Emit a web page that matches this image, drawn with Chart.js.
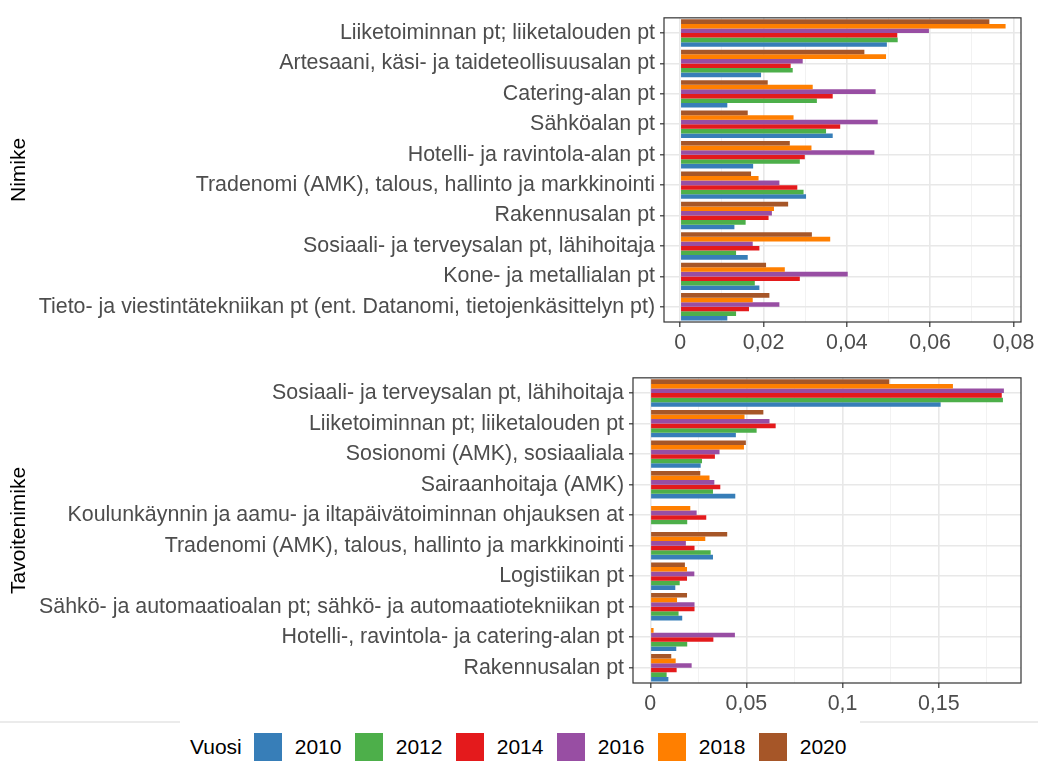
<!DOCTYPE html>
<html>
<head>
<meta charset="utf-8">
<script src="https://cdn.jsdelivr.net/npm/chart.js@4.4.1/dist/chart.umd.min.js"></script>
<style>
  body { margin: 0; background: #fff; width: 1038px; height: 762px; position: relative; overflow: hidden; font-family: "Liberation Sans", Arial, sans-serif; }
  canvas { position: absolute; left: 0; }
  #topChart { top: 0; }
  #bottomChart { top: 360px; }
  #rule { position: absolute; left: 0; top: 721px; width: 1038px; height: 2px; background: #ebebeb; }
  #legendBox { position: absolute; left: 180px; top: 719px; width: 680px; height: 43px; background: #fff; }
  #legend { position: absolute; left: 190px; top: 733px; height: 28px; display: flex; align-items: center; font-size: 21px; color: #000; }
  #legend .ttl { margin-right: 12px; }
  #legend .box { width: 28px; height: 28px; margin-right: 13px; }
  #legend .lbl { width: 47px; margin-right: 13px; }
</style>
</head>
<body>
<canvas id="topChart" width="1038" height="360"></canvas>
<canvas id="bottomChart" width="1038" height="361"></canvas>
<div id="rule"></div>
<div id="legendBox"></div>
<div id="legend"></div>

<script>
// vuodet ja värit (Set1)
const years = ['2010', '2012', '2014', '2016', '2018', '2020'];
const yearColors = ['#377EB8', '#4DAF4A', '#E41A1C', '#984EA3', '#FF7F00', '#A65628'];

// ylempi paneeli: Nimike
const nimikeLabels = [
  'Liiketoiminnan pt; liiketalouden pt',
  'Artesaani, käsi- ja taideteollisuusalan pt',
  'Catering-alan pt',
  'Sähköalan pt',
  'Hotelli- ja ravintola-alan pt',
  'Tradenomi (AMK), talous, hallinto ja markkinointi',
  'Rakennusalan pt',
  'Sosiaali- ja terveysalan pt, lähihoitaja',
  'Kone- ja metallialan pt',
  'Tieto- ja viestintätekniikan pt (ent. Datanomi, tietojenkäsittelyn pt)'
];
const nimike2010 = [0.0496, 0.0194, 0.0113, 0.0366, 0.0175, 0.0302, 0.0130, 0.0162, 0.0190, 0.0113];
const nimike2012 = [0.0522, 0.0270, 0.0328, 0.0350, 0.0287, 0.0296, 0.0157, 0.0134, 0.0179, 0.0134];
const nimike2014 = [0.0521, 0.0265, 0.0366, 0.0384, 0.0299, 0.0281, 0.0212, 0.0190, 0.0287, 0.0165];
const nimike2016 = [0.0597, 0.0294, 0.0469, 0.0474, 0.0466, 0.0238, 0.0220, 0.0174, 0.0402, 0.0238];
const nimike2018 = [0.0781, 0.0494, 0.0318, 0.0272, 0.0315, 0.0188, 0.0225, 0.0360, 0.0251, 0.0174];
const nimike2020 = [0.0742, 0.0442, 0.0210, 0.0162, 0.0263, 0.0170, 0.0259, 0.0316, 0.0206, 0.0214];

// alempi paneeli: Tavoitenimike
const tavoiteLabels = [
  'Sosiaali- ja terveysalan pt, lähihoitaja',
  'Liiketoiminnan pt; liiketalouden pt',
  'Sosionomi (AMK), sosiaaliala',
  'Sairaanhoitaja (AMK)',
  'Koulunkäynnin ja aamu- ja iltapäivätoiminnan ohjauksen at',
  'Tradenomi (AMK), talous, hallinto ja markkinointi',
  'Logistiikan pt',
  'Sähkö- ja automaatioalan pt; sähkö- ja automaatiotekniikan pt',
  'Hotelli-, ravintola- ja catering-alan pt',
  'Rakennusalan pt'
];
const tavoite2010 = [0.1510, 0.0445, 0.0262, 0.0442, null, 0.0326, 0.0130, 0.0166, 0.0135, 0.0094];
const tavoite2012 = [0.1834, 0.0553, 0.0269, 0.0326, 0.0192, 0.0314, 0.0153, 0.0147, 0.0192, 0.0085];
const tavoite2014 = [0.1828, 0.0652, 0.0336, 0.0364, 0.0291, 0.0230, 0.0191, 0.0230, 0.0328, 0.0137];
const tavoite2016 = [0.1839, 0.0620, 0.0360, 0.0333, 0.0241, 0.0185, 0.0229, 0.0230, 0.0440, 0.0215];
const tavoite2018 = [0.1574, 0.0490, 0.0487, 0.0308, 0.0208, 0.0286, 0.0191, 0.0139, 0.0017, 0.0132];
const tavoite2020 = [0.1243, 0.0588, 0.0497, 0.0260, null, 0.0400, 0.0180, 0.0191, null, 0.0109];

Chart.defaults.font.family = '"Liberation Sans", Arial, sans-serif';

// paneelin reunaviiva
const panelBorder = {
  id: 'panelBorder',
  afterDatasetsDraw(chart) {
    const a = chart.chartArea;
    const ctx = chart.ctx;
    ctx.save();
    ctx.strokeStyle = '#333333';
    ctx.lineWidth = 1.2;
    ctx.strokeRect(a.left, a.top, a.right - a.left, a.bottom - a.top);
    ctx.restore();
  }
};

function fmt(v) {
  return String(Math.round(v * 1000) / 1000).replace('.', ',');
}

function drawPanel(canvasId, labels, series, title, xMin, xMax, step, axisWidth) {
  // 2020 ylimmäksi -> käänteinen järjestys
  const datasets = [];
  for (let i = series.length - 1; i >= 0; i--) {
    datasets.push({
      label: years[i],
      data: series[i],
      backgroundColor: yearColors[i],
      categoryPercentage: 0.9,
      barPercentage: 1
    });
  }

  const isMajor = (v) => Math.abs(Math.round(v / step) % 2) === 0;

  let ctx = document.getElementById(canvasId).getContext('2d');
  return new Chart(ctx, {
    type: 'bar',
    data: {
      labels: labels,
      datasets: datasets
    },
    plugins: [panelBorder],
    options: {
      indexAxis: 'y',
      responsive: false,
      animation: false,
      layout: { padding: { top: 12, right: 17, left: 0, bottom: 0 } },
      plugins: {
        legend: { display: false },
        tooltip: { enabled: false }
      },
      scales: {
        x: {
          type: 'linear',
          min: xMin,
          max: xMax,
          afterFit: (s) => { s.height = 38; },
          border: { display: false },
          grid: {
            color: (c) => isMajor(c.tick.value) ? '#e8e8e8' : '#f2f2f2',
            lineWidth: (c) => isMajor(c.tick.value) ? 1.6 : 1,
            tickColor: (c) => isMajor(c.tick.value) ? '#333333' : 'rgba(0,0,0,0)',
            tickLength: 5,
            tickWidth: 1.2
          },
          ticks: {
            stepSize: step,
            includeBounds: false,
            autoSkip: false,
            maxRotation: 0,
            padding: 3,
            color: '#4d4d4d',
            font: { size: 21.4 },
            callback: (v) => isMajor(v) ? fmt(v) : ''
          }
        },
        y: {
          afterFit: (s) => { s.width = axisWidth; },
          border: { display: false },
          grid: {
            offset: false,
            color: '#e8e8e8',
            lineWidth: 1.6,
            tickColor: '#333333',
            tickLength: 4,
            tickWidth: 1.2
          },
          ticks: {
            autoSkip: false,
            padding: 5,
            color: '#4d4d4d',
            font: { size: 21.4 }
          },
          title: {
            display: true,
            text: title,
            color: '#000000',
            font: { size: 21 },
            padding: { top: 7, bottom: 0 }
          }
        }
      }
    }
  });
}

drawPanel('topChart', nimikeLabels,
  [nimike2010, nimike2012, nimike2014, nimike2016, nimike2018, nimike2020],
  'Nimike', -0.0039, 0.0818, 0.01, 664);

drawPanel('bottomChart', tavoiteLabels,
  [tavoite2010, tavoite2012, tavoite2014, tavoite2016, tavoite2018, tavoite2020],
  'Tavoitenimike', -0.009, 0.1928, 0.025, 633);

// selite
const legendEl = document.getElementById('legend');
let html = '<span class="ttl">Vuosi</span>';
for (let i = 0; i < years.length; i++) {
  html += '<span class="box" style="background:' + yearColors[i] + '"></span><span class="lbl">' + years[i] + '</span>';
}
legendEl.innerHTML = html;
</script>
</body>
</html>
